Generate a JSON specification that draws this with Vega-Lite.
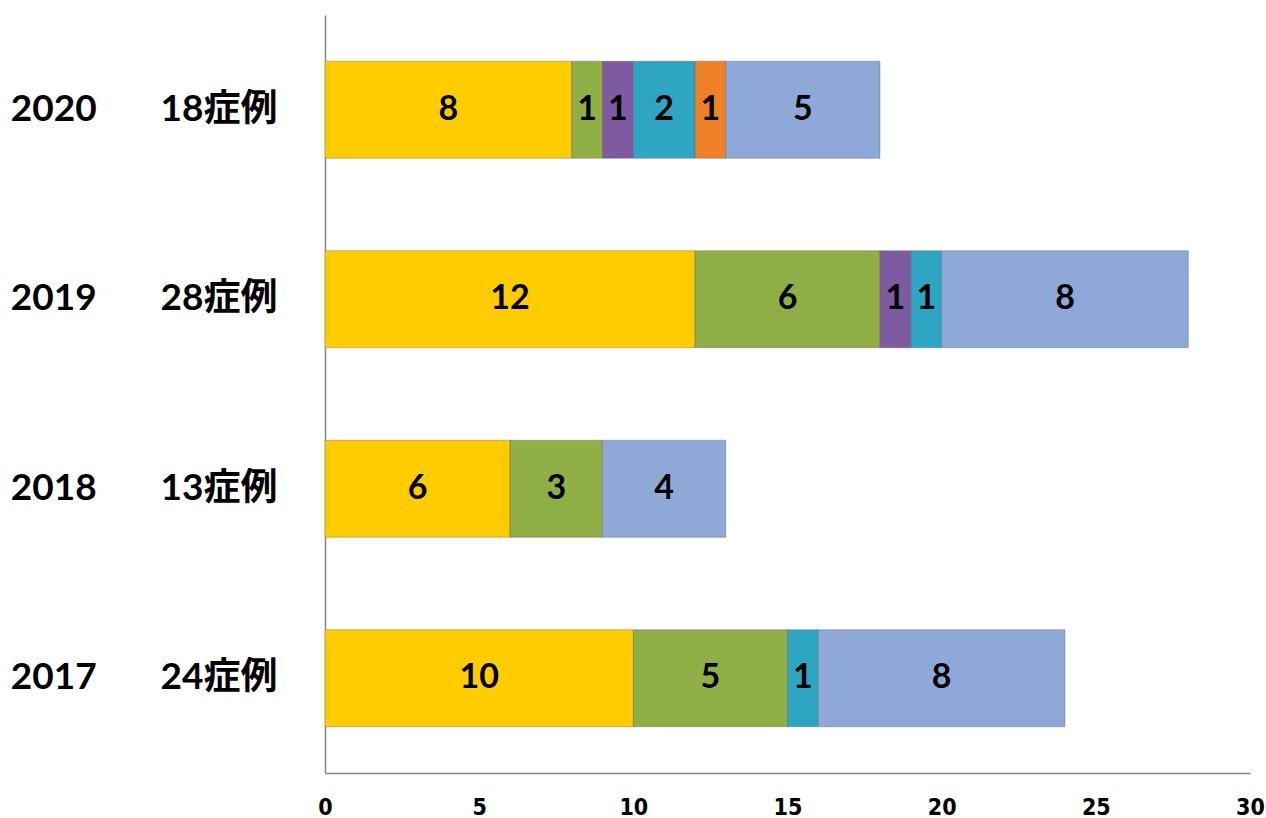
{
  "$schema": "https://vega.github.io/schema/vega-lite/v6.json",
  "width": 925,
  "height": 758,
  "autosize": "none",
  "padding": {"left": 325, "top": 15, "right": 16, "bottom": 45},
  "background": "white",
  "config": {"view": {"stroke": null}},
  "data": {
    "values": [
      {"year": "2020", "cat": "c1", "o": 1, "n": 8},
      {"year": "2020", "cat": "c2", "o": 2, "n": 1},
      {"year": "2020", "cat": "c3", "o": 3, "n": 1},
      {"year": "2020", "cat": "c4", "o": 4, "n": 2},
      {"year": "2020", "cat": "c5", "o": 5, "n": 1},
      {"year": "2020", "cat": "c6", "o": 6, "n": 5},
      {"year": "2019", "cat": "c1", "o": 1, "n": 12},
      {"year": "2019", "cat": "c2", "o": 2, "n": 6},
      {"year": "2019", "cat": "c3", "o": 3, "n": 1},
      {"year": "2019", "cat": "c4", "o": 4, "n": 1},
      {"year": "2019", "cat": "c6", "o": 6, "n": 8},
      {"year": "2018", "cat": "c1", "o": 1, "n": 6},
      {"year": "2018", "cat": "c2", "o": 2, "n": 3},
      {"year": "2018", "cat": "c6", "o": 6, "n": 4},
      {"year": "2017", "cat": "c1", "o": 1, "n": 10},
      {"year": "2017", "cat": "c2", "o": 2, "n": 5},
      {"year": "2017", "cat": "c4", "o": 4, "n": 1},
      {"year": "2017", "cat": "c6", "o": 6, "n": 8}
    ]
  },
  "transform": [
    {"stack": "n", "groupby": ["year"], "sort": [{"field": "o", "order": "ascending"}], "as": ["x0", "x1"]},
    {"calculate": "(datum.x0 + datum.x1) / 2", "as": "mid"}
  ],
  "encoding": {
    "y": {
      "field": "year",
      "type": "nominal",
      "sort": ["2020", "2019", "2018", "2017"],
      "scale": {"paddingInner": 0.488, "paddingOuter": 0.244},
      "axis": {
        "title": null,
        "ticks": false,
        "domainColor": "#868686",
        "domainWidth": 1.5,
        "labelFont": "Lato, Noto Sans CJK JP",
        "labelFontSize": 37,
        "labelFontWeight": "bold",
        "labelColor": "#000000",
        "labelPadding": 48,
        "labelLimit": 0,
        "labelExpr": "{'2020':'2020\u3000\u00a0\u00a0\u00a018症例','2019':'2019\u3000\u00a0\u00a0\u00a028症例','2018':'2018\u3000\u00a0\u00a0\u00a013症例','2017':'2017\u3000\u00a0\u00a0\u00a024症例'}[datum.value]"
      }
    }
  },
  "layer": [
    {
      "mark": {"type": "bar", "stroke": "#555555", "strokeOpacity": 0.35, "strokeWidth": 1},
      "encoding": {
        "x": {
          "field": "x0",
          "type": "quantitative",
          "scale": {"domain": [0, 30], "nice": false},
          "axis": {
            "title": null,
            "values": [0, 5, 10, 15, 20, 25, 30],
            "ticks": false,
            "grid": false,
            "domainColor": "#868686",
            "domainWidth": 1.5,
            "labelFont": "Liberation Sans Narrow, DejaVu Sans Condensed, Lato",
            "labelFontSize": 23,
            "labelFontWeight": "bold",
            "labelColor": "#000000",
            "labelPadding": 23,
            "labelFlush": false
          }
        },
        "x2": {"field": "x1"},
        "color": {
          "field": "cat",
          "type": "nominal",
          "scale": {
            "domain": ["c1", "c2", "c3", "c4", "c5", "c6"],
            "range": ["#FFCC00", "#8FAF46", "#7E5AA0", "#2EA5C2", "#EE8028", "#8EA9D8"]
          },
          "legend": null
        }
      }
    },
    {
      "mark": {"type": "text", "font": "Lato", "fontSize": 34, "fontWeight": "bold", "color": "#000000", "align": "center", "baseline": "middle"},
      "encoding": {
        "x": {"field": "mid", "type": "quantitative"},
        "text": {"field": "n", "type": "quantitative"}
      }
    }
  ]
}
